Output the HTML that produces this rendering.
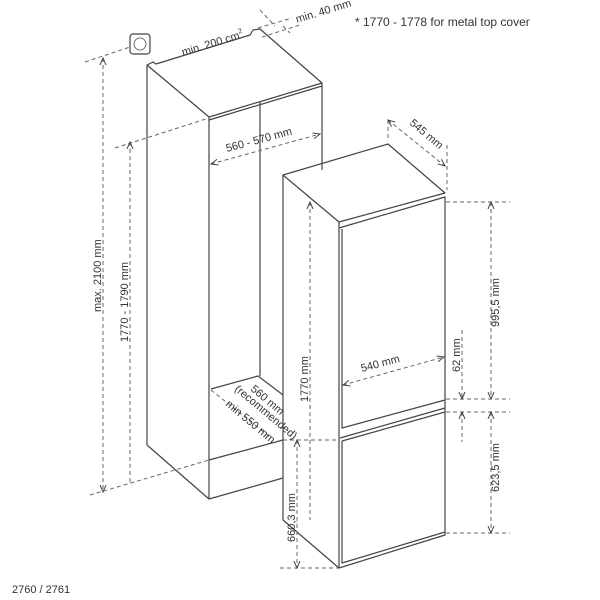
<!DOCTYPE html>
<html><head><style>html,body{margin:0;padding:0;background:#fff}svg{display:block}text{font-family:"Liberation Sans",sans-serif;fill:#333}</style></head>
<body>
<svg width="600" height="600" viewBox="0 0 600 600" xmlns="http://www.w3.org/2000/svg">
<defs>
<marker id="a" markerWidth="8" markerHeight="8" refX="7" refY="4" orient="auto-start-reverse" markerUnits="userSpaceOnUse"><path d="M0,1 L7,4 L0,7" fill="none" stroke="#444" stroke-width="1"/></marker>
</defs>
<g fill="none" stroke="#444" stroke-width="1.2" stroke-linejoin="round">
<path d="M147,445 L147,65 L153,62 L156,64 L250,35 L253,30 L260,29 L322,83"/>
<path d="M147,65 L209,117 L322,83 L322,170"/>
<path d="M209,120 L322,86"/>
<path d="M209,117 L209,499 L283,478"/>
<path d="M147,445 L209,499"/>
<path d="M260,102 L260,376"/>
<path d="M211,389 L258,376 L283,395"/>
<path d="M209,460 L283,440"/>
<path d="M283,520 L283,175 L388,144 L445,193 L339,222 L283,175"/>
<path d="M339,222 L339,568 L283,520"/>
<path d="M339,228 L445,197 L445,535 L339,568"/>
<path d="M342,229 L342,428 L445,400"/>
<path d="M340,438 L445,408"/>
<path d="M342,441 L445,412"/>
<path d="M342,441 L342,563 L445,532"/>
<rect x="130" y="34" width="20" height="20" rx="3"/>
<circle cx="140" cy="44" r="6" stroke-width="0.8"/>
</g>
<g fill="none" stroke="#666" stroke-width="1" stroke-dasharray="4,3">
<path d="M85,62 L130,47"/>
<path d="M103,58 L103,492" marker-start="url(#a)" marker-end="url(#a)"/>
<path d="M115,148 L209,118"/>
<path d="M130,142 L130,483" marker-start="url(#a)"/>
<path d="M90,495 L209,460"/>
<path d="M211,164 L320,134" marker-start="url(#a)" marker-end="url(#a)"/>
<path d="M260,10 L275,26" />
<path d="M283,26 L290,33"/>
<path d="M258,28 L292,18"/>
<path d="M262,37 L300,25"/>
<path d="M388,120 L388,140"/>
<path d="M388,120 L445,166" marker-start="url(#a)" marker-end="url(#a)"/>
<path d="M447,145 L447,190"/>
<path d="M446,202 L510,202"/>
<path d="M491,202 L491,399" marker-start="url(#a)" marker-end="url(#a)"/>
<path d="M446,399 L510,399"/>
<path d="M446,412 L510,412"/>
<path d="M462,330 L462,399" marker-end="url(#a)"/>
<path d="M462,412 L462,442" marker-start="url(#a)"/>
<path d="M491,412 L491,533" marker-start="url(#a)" marker-end="url(#a)"/>
<path d="M446,533 L510,533"/>
<path d="M343,385 L444,357" marker-start="url(#a)" marker-end="url(#a)"/>
<path d="M310,202 L310,520" marker-start="url(#a)"/>
<path d="M283,440 L339,440"/>
<path d="M297,440 L297,568" marker-start="url(#a)" marker-end="url(#a)"/>
<path d="M280,568 L339,568"/>
<path d="M211,390 L270,437"/>
</g>
<g font-size="11">
<text x="355" y="26" font-size="12">* 1770 - 1778 for metal top cover</text>
<text transform="translate(183,56) rotate(-17)">min. 200 cm<tspan font-size="7" dy="-5">2</tspan></text>
<text transform="translate(297,23) rotate(-17)">min. 40 mm</text>
<text transform="translate(227,152) rotate(-15)">560 - 570 mm</text>
<text transform="translate(409,124) rotate(40)">545 mm</text>
<text transform="translate(362,372) rotate(-15)">540 mm</text>
<text transform="translate(101,312) rotate(-90)">max. 2100 mm</text>
<text transform="translate(128,342) rotate(-90)">1770 - 1790 mm</text>
<text transform="translate(308,402) rotate(-90)">1770 mm</text>
<text transform="translate(295,542) rotate(-90)">660,3 mm</text>
<text transform="translate(460,372) rotate(-90)">62 mm</text>
<text transform="translate(499,327) rotate(-90)">995,5 mm</text>
<text transform="translate(499,492) rotate(-90)">623,5 mm</text>
<text transform="translate(250,390) rotate(40)">560 mm</text>
<text transform="translate(234,390) rotate(40)">(recommended)</text>
<text transform="translate(225,405) rotate(40)">min 550 mm</text>
<text x="12" y="593" font-size="11">2760 / 2761</text>
</g>
</svg>
</body></html>
